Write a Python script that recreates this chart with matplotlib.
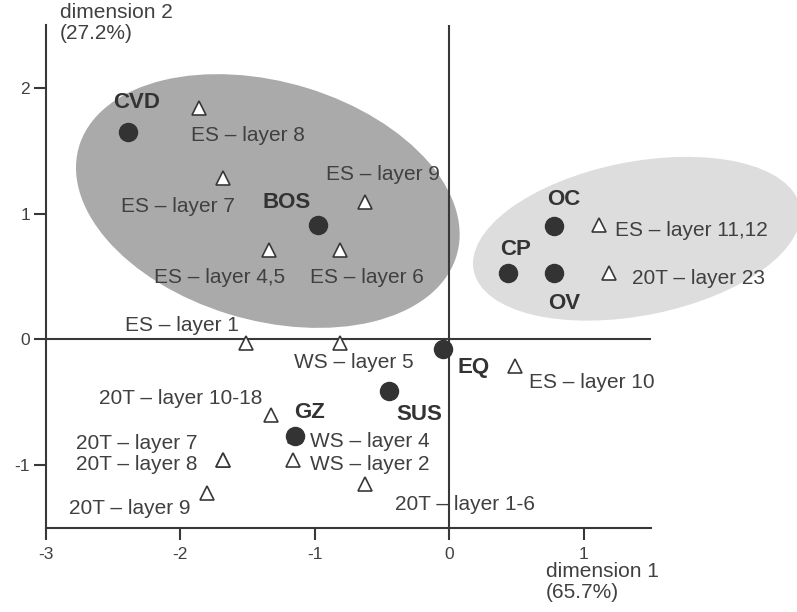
import matplotlib
matplotlib.use("Agg")
import matplotlib.pyplot as plt
from matplotlib.patches import Ellipse

plt.rcParams['font.family'] = ['Liberation Sans', 'DejaVu Sans']
plt.rcParams['axes.unicode_minus'] = False

# sites (filled circles)
site_names = ["CVD", "BOS", "OC", "CP", "OV", "EQ", "SUS", "GZ"]
site_x = [-2.39, -0.98, 0.78, 0.44, 0.78, -0.05, -0.45, -1.15]
site_y = [1.65, 0.91, 0.90, 0.53, 0.53, -0.08, -0.41, -0.77]

# layers (open triangles)
layer_names = ["ES – layer 8", "ES – layer 7", "ES – layer 9", "ES – layer 4,5",
               "ES – layer 6", "ES – layer 1", "WS – layer 5", "ES – layer 11,12",
               "20T – layer 23", "ES – layer 10", "20T – layer 10-18", "20T – layer 7",
               "20T – layer 8", "20T – layer 9", "WS – layer 4", "WS – layer 2",
               "20T – layer 1-6"]
layer_x = [-1.86, -1.68, -0.63, -1.34, -0.81, -1.51, -0.81, 1.11,
           1.19, 0.49, -1.33, -1.68, -1.68, -1.80, -1.15, -1.16, -0.63]
layer_y = [1.84, 1.28, 1.09, 0.71, 0.71, -0.03, -0.03, 0.91,
           0.53, -0.21, -0.60, -0.96, -0.96, -1.22, -0.77, -0.96, -1.15]

# groupings (ellipses): centre x, centre y, width, height, angle
group_dark = (-1.35, 1.10, 2.94, 1.89, -18.3)
group_light = (1.395, 0.80, 2.48, 1.22, 12.2)

# label placement (offset in points, horizontal alignment)
site_offsets = [(6, 21), (-22, 16), (7, 19), (5, 17), (7, -22), (22, -13), (22, -17), (11, 17)]
layer_offsets = [((35, -20), 'center'), ((-33, -20), 'center'), ((13, 20), 'center'),
                 ((-36, -20), 'center'), ((19, -20), 'center'), ((-46, 13), 'center'),
                 ((10, -14), 'center'), ((12, -4), 'left'), ((16, -4), 'left'),
                 ((10, -12), 'left'), ((-6, 12), 'right'), ((-19, 12), 'right'),
                 ((-19, -3), 'right'), ((-12, -11), 'right'), ((11, -4), 'left'),
                 ((12, -3), 'left'), ((22, -15), 'left')]

ink = '#383838'

fig = plt.figure(figsize=(7.97, 6.12), dpi=100)
ax = fig.add_axes([0.0577, 0.1373, 0.7591, 0.8219])

for (cx, cy, w, h, ang), col in [(group_dark, '#aaaaaa'), (group_light, '#dddddd')]:
    ax.add_patch(Ellipse((cx, cy), w, h, angle=ang, facecolor=col, edgecolor='none',
                         zorder=0.5, clip_on=False))

ax.axhline(0, color=ink, lw=1.5, zorder=1)
ax.axvline(0, color=ink, lw=1.5, zorder=1)

ax.plot(layer_x, layer_y, ls='none', marker='^', ms=10, mfc='white', mec=ink,
        mew=1.2, zorder=2)
ax.plot(site_x, site_y, ls='none', marker='o', ms=13, mfc='#333333', mec='#333333',
        zorder=3)

for name, x, y, off in zip(site_names, site_x, site_y, site_offsets):
    ax.annotate(name, (x, y), xytext=off, textcoords='offset points', ha='center',
                va='center', fontsize=16, fontweight='bold', color='#333333', zorder=4)

for name, x, y, (off, ha) in zip(layer_names, layer_x, layer_y, layer_offsets):
    ax.annotate(name, (x, y), xytext=off, textcoords='offset points', ha=ha,
                va='center', fontsize=15, color='#404040', zorder=0.8)

ax.set_xlim(-3, 1.5)
ax.set_ylim(-1.5, 2.5)
ax.set_xticks([-3, -2, -1, 0, 1])
ax.set_yticks([-1, 0, 1, 2])
for s in ['top', 'right']:
    ax.spines[s].set_visible(False)
for s in ['left', 'bottom']:
    ax.spines[s].set_linewidth(1.5)
    ax.spines[s].set_color(ink)
ax.tick_params(length=8.5, width=1.5, color=ink, labelsize=12.5, labelcolor='#404040')
ax.tick_params(axis='x', pad=5)
ax.tick_params(axis='y', pad=3)
ax.patch.set_visible(False)

fig.text(60 / 797, 1 - 3 / 612, "dimension 2\n(27.2%)", ha='left', va='top',
         fontsize=15, color='#404040', linespacing=1.15)
fig.text(546 / 797, 1 - 562 / 612, "dimension 1\n(65.7%)", ha='left', va='top',
         fontsize=15, color='#404040', linespacing=1.15)

fig.savefig("out.png", dpi=100)
